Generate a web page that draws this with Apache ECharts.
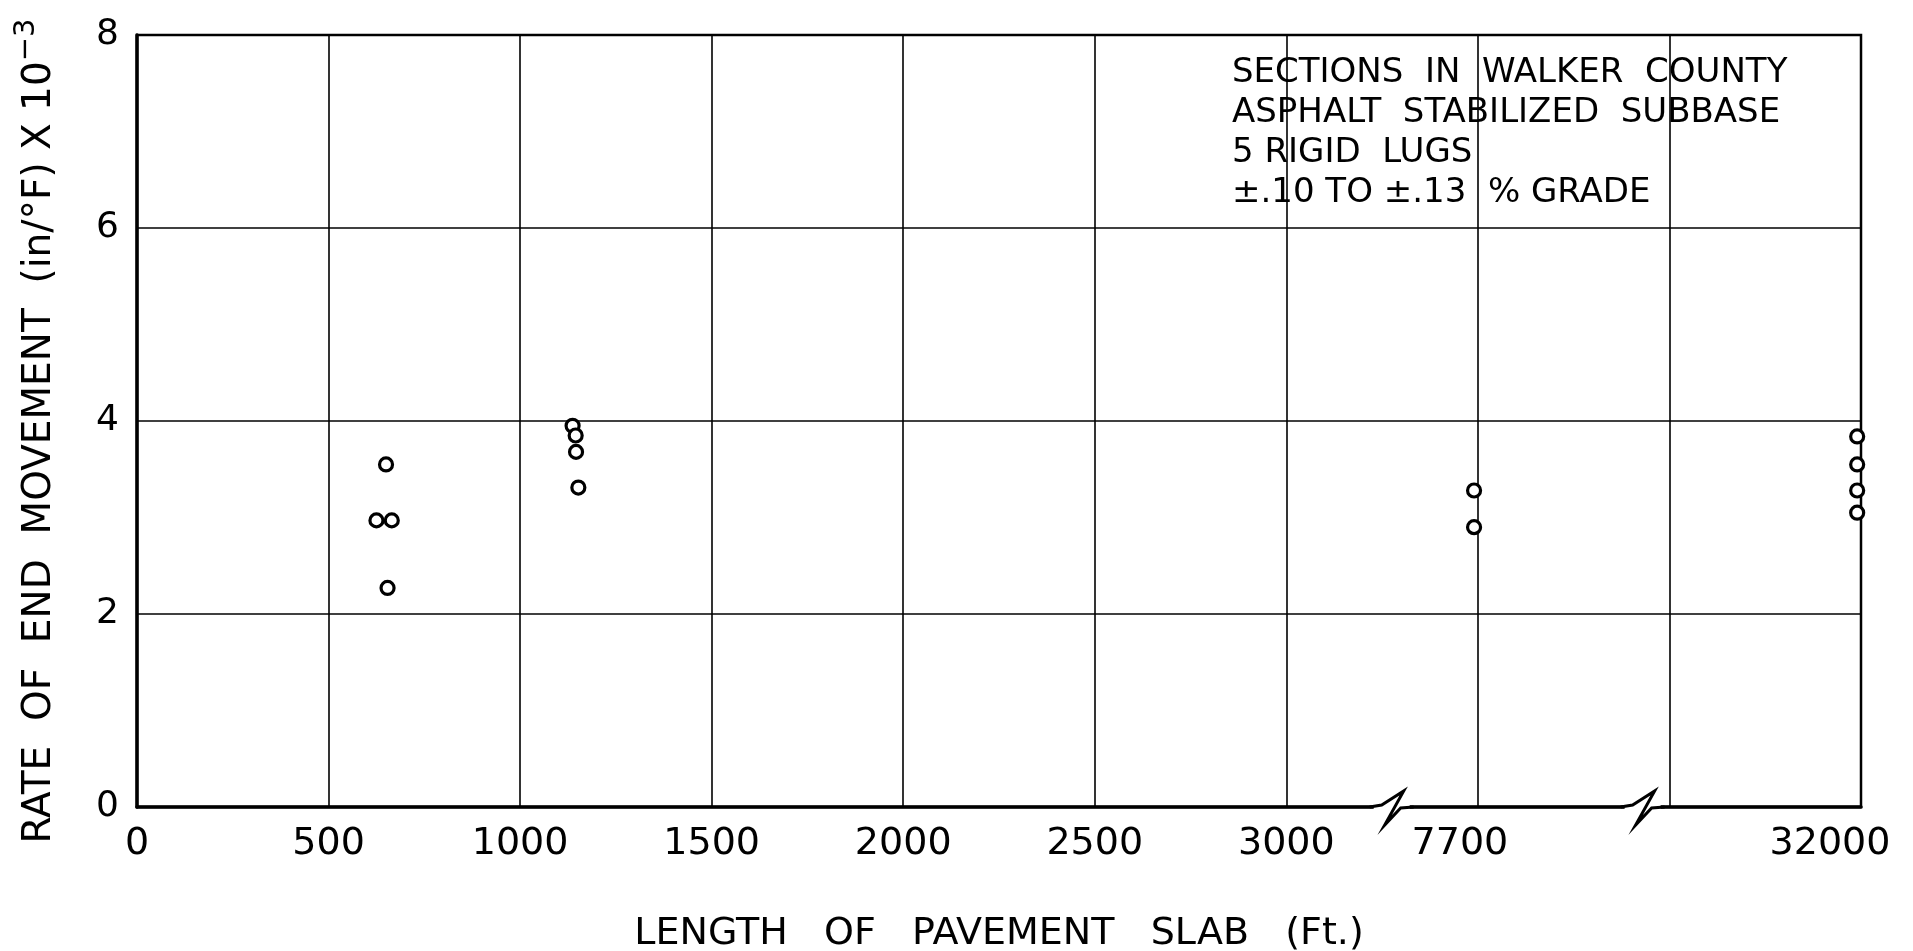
<!DOCTYPE html>
<html>
<head>
<meta charset="utf-8">
<script src="https://cdn.jsdelivr.net/npm/echarts@6/dist/echarts.min.js"></script>
<style>
html,body{margin:0;padding:0;background:#fff;}
#chart{width:1913px;height:951px;}
</style>
</head>
<body>
<div id="chart"></div>
<script>
// Slab lengths (ft) and rates of end movement (in/°F x 10^-3)
var slabLengths = [650, 625, 665, 654, 1137, 1145, 1146, 1152, 7690, 7690, 31990, 31990, 31990, 31990];
var movementRates = [3.55, 2.97, 2.97, 2.27, 3.95, 3.85, 3.68, 3.31, 3.28, 2.90, 3.84, 3.55, 3.28, 3.05];

// Broken x-axis: tick positions on the drawn scale and their labels
var tickPositions = [0, 500, 1000, 1500, 2000, 2500, 3000, 3500, 4000, 4500];
var tickLabels = ['0', '500', '1000', '1500', '2000', '2500', '3000', '7700', '', '32000'];
var breakPositions = [3275, 3930];

var yTicks = [0, 2, 4, 6, 8];

var noteLines = [
  'SECTIONS  IN  WALKER  COUNTY',
  'ASPHALT  STABILIZED  SUBBASE',
  '5 RIGID  LUGS',
  '±.10 TO ±.13  % GRADE'
];

// map a real length to the broken-scale position
function toAxisPos(L) {
  if (L <= 3000) return L;
  if (L < 20000) return 3500 + (L - 7700);
  return 4500 + (L - 32000);
}

var points = slabLengths.map(function (L, i) { return [toAxisPos(L), movementRates[i]]; });

var FONT = 'DejaVu Sans';
var chart = echarts.init(document.getElementById('chart'), null, {renderer: 'canvas'});

var option = {
  backgroundColor: '#ffffff',
  animation: false,
  grid: {
    left: 137, right: 52, top: 35, bottom: 144,
    containLabel: false, outerBoundsMode: 'none',
    show: true, borderColor: '#000', borderWidth: 2.5, backgroundColor: 'transparent'
  },
  xAxis: {
    type: 'value', min: 0, max: 4500, interval: 500,
    axisLine: {show: true, lineStyle: {color: '#000', width: 3.5}},
    axisTick: {show: false},
    splitLine: {show: true, lineStyle: {color: '#000', width: 1.6}},
    axisLabel: {
      color: '#000', fontFamily: FONT, fontSize: 38, margin: 18,
      hideOverlap: false, showMinLabel: true, showMaxLabel: true,
      formatter: function (v) {
        var idx = tickPositions.indexOf(v);
        if (idx < 0) return '';
        var s = tickLabels[idx];
        if (v === 3500) return '{a|' + s + '}';
        if (v === 4500) return '{b|' + s + '}';
        return s;
      },
      rich: {
        a: {fontFamily: FONT, fontSize: 38, color: '#000', padding: [0, 36, 0, 0]},
        b: {fontFamily: FONT, fontSize: 38, color: '#000', padding: [0, 62, 0, 0]}
      }
    },
    name: 'LENGTH   OF   PAVEMENT   SLAB   (Ft.)',
    nameLocation: 'middle', nameGap: 108,
    nameTextStyle: {color: '#000', fontFamily: FONT, fontSize: 38}
  },
  yAxis: {
    type: 'value', min: 0, max: 8, interval: 2,
    axisLine: {show: true, lineStyle: {color: '#000', width: 3.5}},
    axisTick: {show: false},
    splitLine: {show: true, lineStyle: {color: '#000', width: 1.6}},
    axisLabel: {color: '#000', fontFamily: FONT, fontSize: 36, margin: 18,
      formatter: function (v) { return yTicks.indexOf(v) >= 0 ? String(v) : ''; }},
    name: 'RATE  OF  END  MOVEMENT  (in/°F) X 10{sup|−3}',
    nameLocation: 'middle', nameGap: 70,
    nameTextStyle: {
      color: '#000', fontFamily: FONT, fontSize: 39, padding: [0, 20, 0, 0],
      rich: {sup: {fontFamily: FONT, fontSize: 29, color: '#000', verticalAlign: 'top', padding: [0, 0, 26, 0]}}
    }
  },
  series: [{
    type: 'scatter',
    data: points,
    symbol: 'circle',
    symbolSize: 13,
    clip: true,
    itemStyle: {color: '#fff', borderColor: '#000', borderWidth: 3.2, opacity: 1},
    z: 5
  }]
};
chart.setOption(option);

// decorations: axis break marks and the note text
function addGraphics() {
  var els = [];
  breakPositions.forEach(function (p) {
    var c = chart.convertToPixel({gridIndex: 0}, [p, 0]);
    var x = c[0], y = c[1];
    els.push({type: 'rect', shape: {x: x - 18, y: y - 4, width: 36, height: 8}, style: {fill: '#fff'}, z: 100});
    els.push({type: 'polyline', shape: {points: [[x - 22, y], [x - 10, y - 2], [x + 12, y - 16], [x - 7, y + 18], [x + 9, y + 1], [x + 22, y]]},
      style: {stroke: '#000', lineWidth: 3, fill: null}, z: 101});
  });
  noteLines.forEach(function (t, i) {
    els.push({type: 'text', x: 1232, y: 73 + i * 40,
      style: {text: t, fill: '#000', font: '34px "' + FONT + '"', textVerticalAlign: 'middle'}, z: 50});
  });
  chart.setOption({graphic: els});
}
addGraphics();
</script>
</body>
</html>
